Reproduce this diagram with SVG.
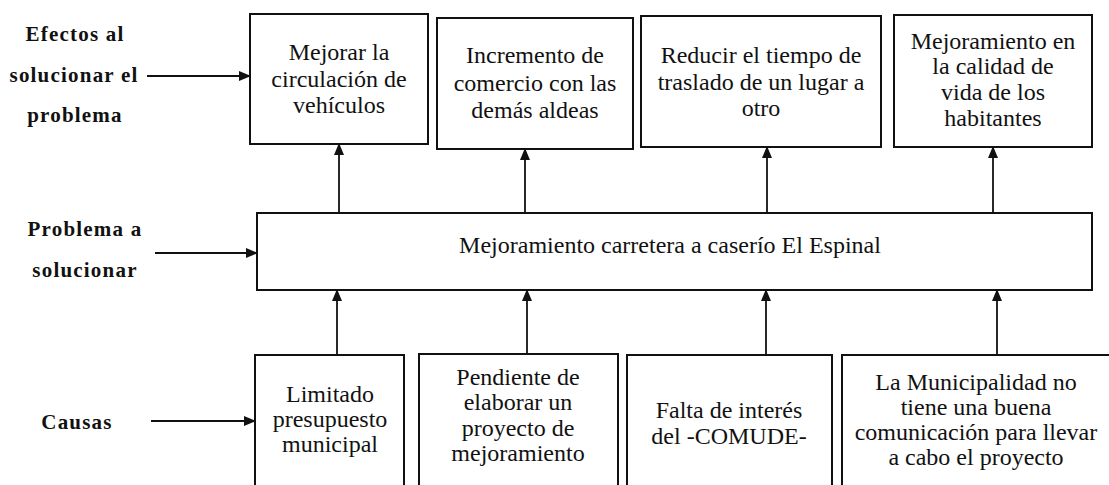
<svg xmlns="http://www.w3.org/2000/svg" width="1109" height="485" viewBox="0 0 1109 485">
<style>
.box{fill:#fff;stroke:#111;stroke-width:2}
text{font-family:'Liberation Serif','Times New Roman',Times,'DejaVu Serif',serif}
.t{font-size:24px;fill:#111;text-anchor:middle}
.lbl{font-size:21px;font-weight:bold;fill:#111;text-anchor:middle;letter-spacing:1.2px}
.c{stroke:#111;stroke-width:1.8;fill:none;marker-end:url(#ah)}
</style>
<defs>
<marker id="ah" markerUnits="userSpaceOnUse" markerWidth="12" markerHeight="10" refX="11" refY="5" orient="auto">
<path d="M0,0 L12,5 L0,10 Z" fill="#111"/>
</marker>
</defs>
<rect width="1109" height="485" fill="#fff"/>

<g id="label-efectos" font-family="Liberation Serif, serif">
<text class="lbl" x="75" y="41">Efectos al</text>
<text class="lbl" x="74" y="82">solucionar el</text>
<text class="lbl" x="75" y="122">problema</text>
</g>
<g id="label-problema" font-family="Liberation Serif, serif">
<text class="lbl" x="85" y="236">Problema a</text>
<text class="lbl" x="85" y="277">solucionar</text>
</g>
<g id="label-causas" font-family="Liberation Serif, serif">
<text class="lbl" x="77" y="429">Causas</text>
</g>

<g id="efecto1">
<rect class="box" x="250" y="14" width="178" height="130"/>
<text class="t" x="339" y="60">Mejorar la</text>
<text class="t" x="339" y="87">circulación de</text>
<text class="t" x="339" y="113">vehículos</text>
</g>
<g id="efecto2">
<rect class="box" x="437" y="18" width="196" height="131"/>
<text class="t" x="535" y="63">Incremento de</text>
<text class="t" x="535" y="91">comercio con las</text>
<text class="t" x="535" y="118">demás aldeas</text>
</g>
<g id="efecto3">
<rect class="box" x="641" y="16" width="240" height="131"/>
<text class="t" x="761" y="63">Reducir el tiempo de</text>
<text class="t" x="761" y="90">traslado de un lugar a</text>
<text class="t" x="761" y="116">otro</text>
</g>
<g id="efecto4">
<rect class="box" x="894" y="15" width="198" height="132"/>
<text class="t" x="993" y="49">Mejoramiento en</text>
<text class="t" x="993" y="74">la calidad de</text>
<text class="t" x="993" y="100">vida de los</text>
<text class="t" x="993" y="126">habitantes</text>
</g>

<g id="problema">
<rect class="box" x="257" y="213" width="835" height="77"/>
<text class="t" x="670" y="253">Mejoramiento carretera a caserío El Espinal</text>
</g>

<g id="causa1">
<rect class="box" x="255" y="355" width="149" height="140"/>
<text class="t" x="330" y="402">Limitado</text>
<text class="t" x="330" y="427">presupuesto</text>
<text class="t" x="330" y="452">municipal</text>
</g>
<g id="causa2">
<rect class="box" x="419" y="354" width="199" height="140"/>
<text class="t" x="518" y="385">Pendiente de</text>
<text class="t" x="518" y="410">elaborar un</text>
<text class="t" x="518" y="436">proyecto de</text>
<text class="t" x="518" y="461">mejoramiento</text>
</g>
<g id="causa3">
<rect class="box" x="627" y="355" width="205" height="140"/>
<text class="t" x="729" y="418">Falta de interés</text>
<text class="t" x="729" y="444">del -COMUDE-</text>
</g>
<g id="causa4">
<rect class="box" x="842" y="355" width="275" height="140"/>
<text class="t" x="976" y="390">La Municipalidad no</text>
<text class="t" x="976" y="415">tiene una buena</text>
<text class="t" x="976" y="440">comunicación para llevar</text>
<text class="t" x="976" y="465">a cabo el proyecto</text>
</g>

<g id="connectors">
<line class="c" x1="147" y1="76" x2="250" y2="76"/>
<line class="c" x1="155" y1="253" x2="257" y2="253"/>
<line class="c" x1="151" y1="421" x2="255" y2="421"/>
<line class="c" x1="339" y1="213" x2="339" y2="144"/>
<line class="c" x1="525" y1="213" x2="525" y2="149"/>
<line class="c" x1="767" y1="213" x2="767" y2="147"/>
<line class="c" x1="993" y1="213" x2="993" y2="147"/>
<line class="c" x1="337" y1="355" x2="337" y2="290"/>
<line class="c" x1="527" y1="354" x2="527" y2="290"/>
<line class="c" x1="766" y1="355" x2="766" y2="290"/>
<line class="c" x1="997" y1="355" x2="997" y2="290"/>
</g>
</svg>
